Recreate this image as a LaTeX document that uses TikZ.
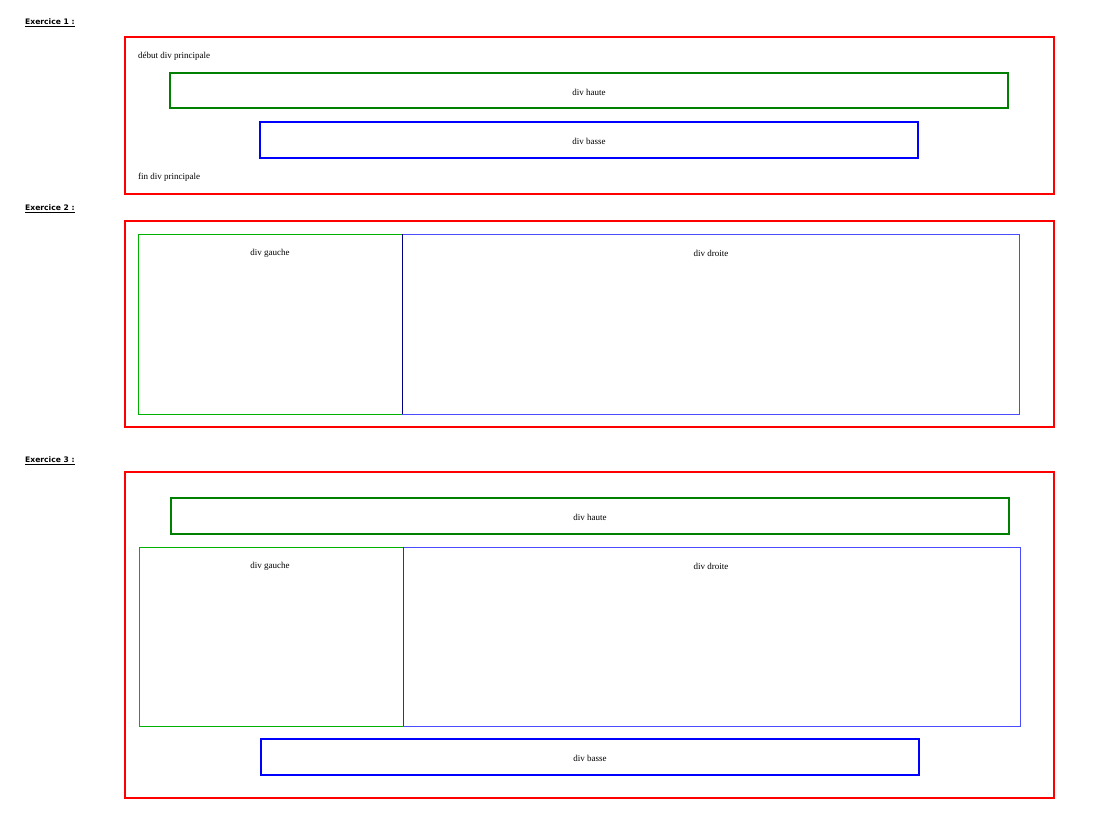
\documentclass[tikz,border=0pt]{standalone}
\usepackage{fontspec}
\setmainfont{Liberation Serif}
\newfontfamily\hdr{DejaVu Sans}
\begin{document}
\begin{tikzpicture}[x=1pt,y=-1pt,
  lbl/.style={font=\fontsize{9}{10}\selectfont, inner sep=0pt},
  hd/.style={font=\hdr\bfseries\fontsize{7.6}{9}\selectfont, anchor=west, inner sep=0pt},
  outer/.style={draw=red, line width=1.8pt},
  boxthk/.style={line width=1.1pt},
  boxthin/.style={line width=0.6pt}]
\useasboundingbox (0,0) rectangle (1108,831);
% Exercice 1
\node[hd] (h1) at (25,23) {\underline{Exercice 1 :}};
\draw[outer] (125,37) rectangle (1054,194);
\node[lbl,anchor=west] (t1) at (138,56) {début div principale};
\draw[boxthk,draw=green!50!black] (170,73) rectangle (1008,108);
\node[lbl] (a1) at (589,92) {div haute};
\draw[boxthk,draw=blue] (260,122) rectangle (918,158);
\node[lbl] (b1) at (589,141) {div basse};
\node[lbl,anchor=west] (t2) at (138,177) {fin div principale};
% Exercice 2
\node[hd] (h2) at (25,209) {\underline{Exercice 2 :}};
\draw[outer] (125,221) rectangle (1054,427);
\draw[boxthin,draw=green!70!black] (138,234) rectangle (402,414);
\draw[boxthin,draw=blue!70] (402,234) rectangle (1019,414);
\draw[boxthin,draw=blue!50!black] (402,234) -- (402,414);
\node[lbl] (g2) at (270,253) {div gauche};
\node[lbl] (d2) at (711,253) {div droite};
% Exercice 3
\node[hd] (h3) at (25,461) {\underline{Exercice 3 :}};
\draw[outer] (125,472) rectangle (1054,798);
\draw[boxthk,draw=green!50!black] (171,498) rectangle (1009,534);
\node[lbl] (a3) at (590,517) {div haute};
\draw[boxthin,draw=blue!70] (403,547) rectangle (1020,726);
\draw[boxthin,draw=green!70!black] (139,547) rectangle (403,726);
\draw[boxthin,draw=green!40!black] (403,547) -- (403,726);
\node[lbl] (g3) at (270,566) {div gauche};
\node[lbl] (d3) at (711,566) {div droite};
\draw[boxthk,draw=blue] (261,739) rectangle (919,775);
\node[lbl] (b3) at (590,758) {div basse};
\end{tikzpicture}
\end{document}
